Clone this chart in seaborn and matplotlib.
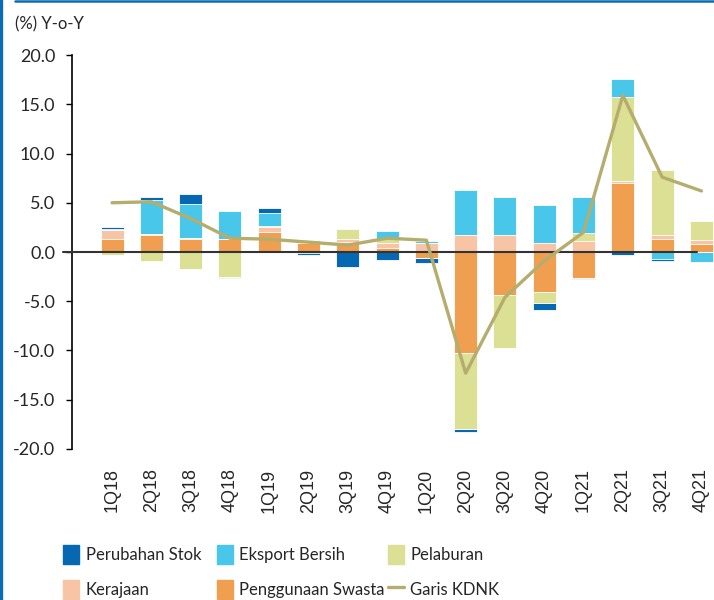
import numpy as np
import pandas as pd
import matplotlib
matplotlib.use("Agg")
import matplotlib.pyplot as plt
from matplotlib.lines import Line2D
from matplotlib.patches import Patch
import seaborn as sns

# Data (sumbangan kepada KDNK, % tahun ke tahun)
quarters = ["1Q18", "2Q18", "3Q18", "4Q18", "1Q19", "2Q19", "3Q19", "4Q19",
            "1Q20", "2Q20", "3Q20", "4Q20", "1Q21", "2Q21", "3Q21", "4Q21"]
swasta = [1.27, 1.7, 1.37, 1.27, 2.08, 0.95, 1.06, 0.42,
          -0.65, -10.3, -4.4, -4.1, -2.6, 7.04, 1.27, 0.79]
kerajaan = [0.94, 0.1, 0.1, 0.1, 0.5, 0.1, 0.27, 0.5,
            0.9, 1.77, 1.77, 0.96, 1.16, 0.17, 0.47, 0.45]
pelaburan = [-0.3, -0.93, -1.7, -2.5, 0.1, 0.2, 1.05, 0.45,
             0.0, -7.67, -5.37, -1.05, 0.8, 8.53, 6.6, 1.95]
eksport = [0.15, 3.5, 3.44, 2.76, 1.3, -0.1, 0.0, 0.8,
           0.24, 4.5, 3.85, 3.85, 3.65, 1.82, -0.66, -1.06]
stok = [0.2, 0.27, 0.98, -0.13, 0.44, -0.25, -1.54, -0.83,
        -0.5, -0.27, 0.0, -0.74, -0.1, -0.35, -0.27, 0.0]
kdnk = [5.0, 5.1, 3.4, 1.4, 1.3, 1.0, 0.7, 1.4,
        1.2, -12.3, -4.6, -0.9, 2.0, 15.9, 7.6, 6.2]

komponen = ["Penggunaan Swasta", "Kerajaan", "Pelaburan", "Eksport Bersih", "Perubahan Stok"]
warna = {
    "Perubahan Stok": "#0668b3",
    "Eksport Bersih": "#48c7eb",
    "Pelaburan": "#dbe094",
    "Kerajaan": "#f7c4a6",
    "Penggunaan Swasta": "#f09f50",
}
warna_garis = "#b5ad6e"

df = pd.DataFrame({
    "Penggunaan Swasta": swasta,
    "Kerajaan": kerajaan,
    "Pelaburan": pelaburan,
    "Eksport Bersih": eksport,
    "Perubahan Stok": stok,
}, index=quarters)

sns.set_style("white")
plt.rcParams["font.family"] = ["Lato", "DejaVu Sans"]

fig = plt.figure(figsize=(7.14, 6.0), dpi=100)
ax = fig.add_axes([0.1008, 0.2517, 0.8992, 0.6566])

# bar bertindan: lukis jumlah kumulatif dari atas ke bawah
pos = df[komponen].clip(lower=0).cumsum(axis=1)
neg = df[komponen].clip(upper=0).cumsum(axis=1)
for k in reversed(komponen):
    for part in (pos, neg):
        sns.barplot(x=quarters, y=part[k].values, color=warna[k], saturation=1,
                    width=0.585, edgecolor="white", linewidth=0.6,
                    errorbar=None, ax=ax, zorder=2)

ax.axhline(0, xmin=-0.014, xmax=0.973, color="#333333", lw=1.5,
           clip_on=False, zorder=3)

sns.lineplot(x=quarters, y=kdnk, sort=False, color=warna_garis, lw=2.4,
             ax=ax, zorder=4)

ax.set_xlim(-1.02, 15.32)
ax.set_ylim(-20, 20)
ax.set_yticks(np.arange(-20, 21, 5))
ax.set_yticklabels([f"{v:.1f}" for v in np.arange(-20, 21, 5)], fontsize=13)
ax.set_xticks(range(len(quarters)))
ax.set_xticklabels(quarters, rotation=90)
for lbl in ax.get_xticklabels():
    lbl.set_fontfamily(["Liberation Sans", "DejaVu Sans"])
    lbl.set_fontsize(13)
ax.tick_params(axis="x", length=0, pad=14)
ax.tick_params(axis="y", direction="out", length=4, width=1, color="black", pad=8, left=True)
ax.set_xlabel("")
ax.set_ylabel("")
sns.despine(ax=ax, bottom=True)
ax.spines["left"].set_color("black")
ax.spines["left"].set_linewidth(1.2)

fig.text(15 / 714, 1 - 24 / 600, "(%) Y-o-Y", fontsize=12, va="center", ha="left")

# legenda: tiga lajur, dua baris
lajur = [
    (63, [Patch(color=warna["Perubahan Stok"], label="Perubahan Stok"),
          Patch(color=warna["Kerajaan"], label="Kerajaan")]),
    (217, [Patch(color=warna["Eksport Bersih"], label="Eksport Bersih"),
           Patch(color=warna["Penggunaan Swasta"], label="Penggunaan Swasta")]),
    (388, [Patch(color=warna["Pelaburan"], label="Pelaburan"),
           Line2D([], [], color=warna_garis, lw=2.4, label="Garis KDNK")]),
]
for x0, hs in lajur:
    fig.legend(handles=hs, loc="upper left",
               bbox_to_anchor=(x0 / 714, 1 - 544.5 / 600), frameon=False,
               fontsize=12, handlelength=0.95, handleheight=1.38,
               handletextpad=0.4, labelspacing=0.96,
               borderpad=0, borderaxespad=0)

# bingkai biru
fig.add_artist(Line2D([0.002, 0.002], [0, 1], transform=fig.transFigure,
                      color="#0b6cb6", lw=2.4))
fig.add_artist(Line2D([15 / 714, 1], [0.998, 0.998], transform=fig.transFigure,
                      color="#0b6cb6", lw=1.8))

fig.savefig("out.png", dpi=100)
